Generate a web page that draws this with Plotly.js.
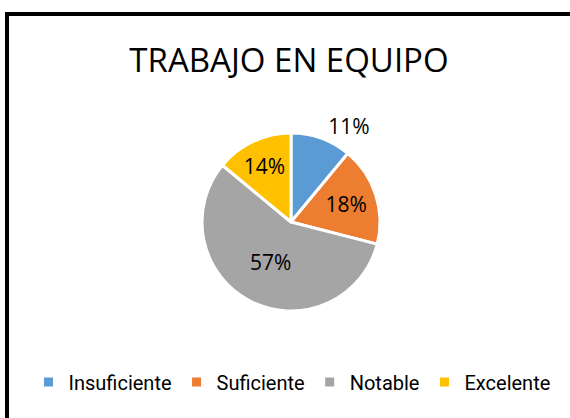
<!DOCTYPE html>
<html>
<head>
<meta charset="utf-8">
<script src="https://cdn.plot.ly/plotly-3.0.1.min.js"></script>
<style>
  html, body { margin: 0; padding: 0; background: #fff; overflow: hidden; width: 570px; height: 418px; }
  #chart { position: absolute; left: 0; top: 0; width: 570px; height: 418px; }
  #frame { position: absolute; left: 5px; top: 12px; width: 565px; height: 406px; box-sizing: border-box;
           border-left: 4px solid #000; border-top: 4px solid #000; border-right: none; border-bottom: none; z-index: 5; pointer-events: none; }
</style>
</head>
<body>
<div id="chart"></div>
<div id="frame"></div>
<script>
const categories = ["Insuficiente", "Suficiente", "Notable", "Excelente"];
const values = [11, 18, 57, 14];
const colors = ["#5B9BD5", "#ED7D31", "#A5A5A5", "#FFC000"];
const labelPositions = ["outside", "inside", "inside", "inside"];
const chartTitle = "TRABAJO EN EQUIPO";

const W = 570, H = 418;
const cx = 291, cy = 222, r = 89;
const fontFam = "Open Sans, sans-serif";

const data = [{
  type: "pie",
  labels: categories,
  values: values,
  sort: false,
  direction: "clockwise",
  rotation: 0,
  marker: { colors: colors, line: { color: "#ffffff", width: 3 } },
  textinfo: "percent",
  texttemplate: "%{percent:.0%}",
  textposition: labelPositions,
  insidetextorientation: "horizontal",
  textfont: { family: fontFam, size: 21, color: "#000" },
  outsidetextfont: { family: fontFam, size: 21, color: "#000" },
  insidetextfont: { family: fontFam, size: 21, color: "#000" },
  hoverinfo: "none",
  domain: { x: [(cx - r) / W, (cx + r) / W], y: [1 - (cy + r) / H, 1 - (cy - r) / H] }
}];

const layout = {
  width: W, height: H,
  margin: { l: 0, r: 0, t: 0, b: 0 },
  paper_bgcolor: "#ffffff",
  plot_bgcolor: "rgba(0,0,0,0)",
  title: {
    text: chartTitle,
    font: { family: fontFam, size: 33, color: "#000" },
    x: 289 / W, xanchor: "center", xref: "paper",
    y: 1 - 60 / H, yanchor: "middle", yref: "container"
  },
  showlegend: true,
  legend: {
    orientation: "h",
    x: 292 / W, xanchor: "center",
    y: 1 - 382 / H, yanchor: "middle",
    font: { family: "Roboto, sans-serif", size: 20, color: "#000" },
    itemwidth: 30,
    tracegroupgap: 0
  }
};

Plotly.newPlot("chart", data, layout, { displayModeBar: false, staticPlot: true });
</script>
</body>
</html>
